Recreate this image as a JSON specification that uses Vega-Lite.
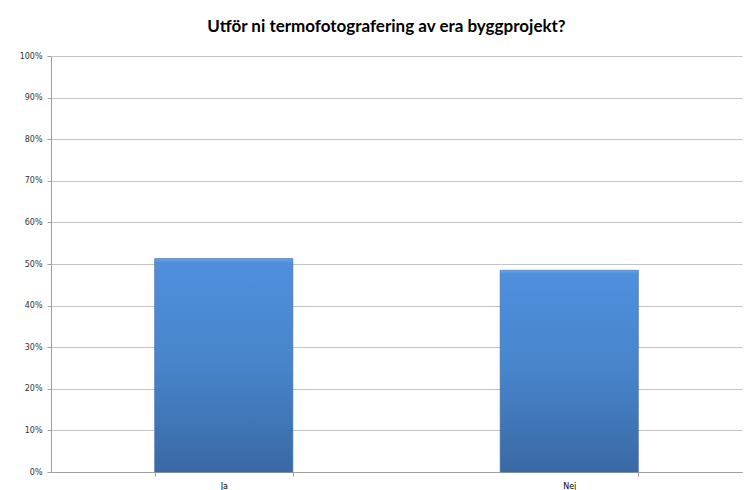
{
  "$schema": "https://vega.github.io/schema/vega-lite/v6.json",
  "width": 691,
  "height": 416,
  "autosize": {"type": "none"},
  "padding": {"left": 51, "top": 56, "right": 3, "bottom": 18},
  "background": "white",
  "title": {
    "text": "Utför ni termofotografering av era byggprojekt?",
    "font": "Lato",
    "fontSize": 17,
    "fontWeight": "bold",
    "color": "#000000",
    "anchor": "middle",
    "dx": -10,
    "offset": 16
  },
  "data": {
    "values": [
      {"svar": "Ja", "andel": 0.513},
      {"svar": "Nej", "andel": 0.485}
    ]
  },
  "mark": {
    "type": "bar",
    "color": {
      "gradient": "linear",
      "x1": 0, "y1": 0, "x2": 0, "y2": 1,
      "stops": [
        {"offset": 0, "color": "#6aa5e6"},
        {"offset": 0.02, "color": "#4f8fdc"},
        {"offset": 0.5, "color": "#4784cb"},
        {"offset": 1, "color": "#3a69a4"}
      ]
    },
    "stroke": "#3a6aa3",
    "strokeWidth": 1,
    "strokeOpacity": 0.6
  },
  "encoding": {
    "x": {
      "field": "svar",
      "type": "nominal",
      "sort": ["Ja", "Nej"],
      "title": null,
      "scale": {"paddingInner": 0.6, "paddingOuter": 0.3},
      "axis": {
        "labelAngle": 0,
        "labelFont": "DejaVu Sans",
        "labelFontSize": 8,
        "labelColor": "#000000",
        "labelPadding": 6,
        "tickBand": "extent",
        "tickSize": 4,
        "tickColor": "#a0a0a0",
        "domainColor": "#a0a0a0",
        "grid": false
      }
    },
    "y": {
      "field": "andel",
      "type": "quantitative",
      "title": null,
      "scale": {"domain": [0, 1], "nice": false},
      "axis": {
        "format": ".0%",
        "values": [0, 0.1, 0.2, 0.3, 0.4, 0.5, 0.6, 0.7, 0.8, 0.9, 1],
        "labelFont": "DejaVu Sans",
        "labelFontSize": 8,
        "labelColor": "#333333",
        "labelPadding": 5,
        "tickSize": 4,
        "tickColor": "#a0a0a0",
        "domainColor": "#a0a0a0",
        "grid": true,
        "gridColor": "#c4c4c4",
        "gridWidth": 1
      }
    }
  },
  "config": {
    "view": {"stroke": null}
  }
}
